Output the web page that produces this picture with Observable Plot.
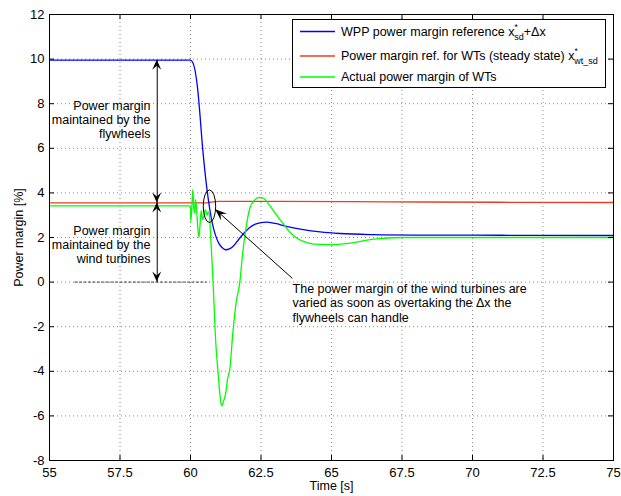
<!DOCTYPE html>
<html><head><meta charset="utf-8">
<script src="https://cdn.jsdelivr.net/npm/d3@7"></script>
<script src="https://cdn.jsdelivr.net/npm/@observablehq/plot@0.6"></script>
<style>body{margin:0;background:#fff;} svg{font-family:"Liberation Sans",Arial,sans-serif;}</style>
</head><body><div id="chart"></div>
<script>
const xTicks = [55, 57.5, 60, 62.5, 65, 67.5, 70, 72.5, 75];
const yTicks = [-8, -6, -4, -2, 0, 2, 4, 6, 8, 10, 12];

// WPP power margin reference x*_sd + Δx (blue)
const blueT = [55, 60.0, 60.08, 60.16, 60.25, 60.33, 60.41, 60.5, 60.59, 60.68, 60.78, 60.9, 61.0, 61.12, 61.24, 61.4, 61.55, 61.7, 61.9, 62.1, 62.3, 62.5, 62.7, 63.0, 63.4, 64.0, 64.6, 65.3, 66.5, 68, 71, 75];
const blueV = [9.95, 9.95, 9.85, 9.5, 8.7, 7.6, 6.3, 5.1, 4.1, 3.3, 2.6, 2.05, 1.75, 1.55, 1.45, 1.5, 1.65, 1.9, 2.2, 2.45, 2.6, 2.67, 2.69, 2.63, 2.5, 2.35, 2.25, 2.18, 2.13, 2.11, 2.1, 2.09];

// Power margin ref. for WTs (steady state) x*_wt_sd (red)
const redT = [55, 60.5, 60.7, 61.0, 63, 67, 71, 75];
const redV = [3.55, 3.55, 3.58, 3.62, 3.62, 3.6, 3.58, 3.57];

// Actual power margin of WTs (green)
const greenT = [55, 60.0, 60.01, 60.05, 60.08, 60.12, 60.15, 60.18, 60.22, 60.26, 60.3, 60.34, 60.38, 60.43, 60.48, 60.53, 60.58, 60.63, 60.67, 60.71, 60.8, 60.9, 60.97, 61.04, 61.1, 61.17, 61.24, 61.32, 61.39, 61.5, 61.62, 61.75, 61.85, 61.95, 62.1, 62.25, 62.45, 62.6, 62.8, 62.95, 63.31, 63.55, 63.78, 64.05, 64.37, 64.85, 65.67, 66.5, 67.5, 70, 75];
const greenV = [3.42, 3.42, 2.7, 3.4, 4.15, 3.3, 3.1, 3.7, 3.2, 2.4, 2.0, 2.6, 3.2, 2.8, 3.0, 3.25, 3.0, 3.15, 3.0, 2.2, 0, -2.8, -3.94, -5.0, -5.55, -5.35, -5.05, -4.3, -3.94, -2.3, -0.9, 0, 1.3, 2.27, 3.3, 3.65, 3.8, 3.75, 3.45, 3.18, 2.58, 2.2, 1.97, 1.8, 1.7, 1.68, 1.75, 1.93, 2.0, 2.0, 2.0];

const colors = ["#0000ff", "#e8401c", "#00ff00"];

// annotations (data units)
const dashLine = {t1: 55.9, t2: 60.6, v: 0};
const arrowT = 58.82;
const flyArrow = [9.95, 3.55];
const wtArrow = [3.55, 0.0];
const pointerFrom = [63.61, 0.17], pointerTo = [60.89, 3.25];
const ellipse = {t: 60.69, v: 3.38, rt: 0.22, rv: 0.73};
const noteLeft1 = "Power margin\nmaintained by the\nflywheels";
const noteLeft2 = "Power margin\nmaintained by the\nwind turbines";
const noteRight = "The power margin of the wind turbines are\nvaried as soon as overtaking the Δx the\nflywheels can handle";

const rows = (ts, vs) => ts.map((t, i) => ({t, v: vs[i]}));

const W = 621, H = 496, mL = 49, mR = 8, mT = 14, mB = 36;
const innerW = W - mL - mR, innerH = H - mT - mB;

const chart = Plot.plot({
  width: W, height: H, marginLeft: mL, marginRight: mR, marginTop: mT, marginBottom: mB,
  style: {fontFamily: "'Liberation Sans', Arial, sans-serif", fontSize: "13px", background: "#fff", color: "black"},
  x: {domain: [55, 75]},
  y: {domain: [-8, 12]},
  marks: [
    Plot.gridX(xTicks, {stroke: "#888", strokeOpacity: 1, strokeDasharray: "1,3"}),
    Plot.gridY(yTicks, {stroke: "#888", strokeOpacity: 1, strokeDasharray: "1,3"}),
    Plot.ruleY([dashLine], {y: "v", x1: "t1", x2: "t2", stroke: "#444", strokeDasharray: "3,1.5"}),
    Plot.line(rows(redT, redV), {x: "t", y: "v", stroke: colors[1], strokeWidth: 1.3, curve: "monotone-x"}),
    Plot.line(rows(blueT, blueV), {x: "t", y: "v", stroke: colors[0], strokeWidth: 1.3, curve: "monotone-x"}),
    Plot.line(rows(greenT, greenV), {x: "t", y: "v", stroke: colors[2], strokeWidth: 1.3, curve: "monotone-x"}),
    Plot.frame({stroke: "black"}),
    Plot.ruleX(xTicks, {insetTop: innerH - 5, stroke: "black"}),
    Plot.ruleX(xTicks, {insetBottom: innerH - 5, stroke: "black"}),
    Plot.ruleY(yTicks, {insetRight: innerW - 5, stroke: "black"}),
    Plot.ruleY(yTicks, {insetLeft: innerW - 5, stroke: "black"}),
    Plot.axisX({ticks: xTicks, tickSize: 0, tickPadding: 7, tickFormat: d => String(d), label: null, fontSize: 13}),
    Plot.axisY({ticks: yTicks, tickSize: 0, tickPadding: 5, tickFormat: d => String(d), label: null, fontSize: 13}),
    Plot.text(["Time [s]"], {frameAnchor: "bottom", dy: 25, textAnchor: "middle", lineAnchor: "middle", fontSize: 12.5}),
    Plot.text(["Power margin [%]"], {frameAnchor: "left", dx: -31, rotate: -90, textAnchor: "middle", lineAnchor: "middle", fontSize: 12.5}),
    Plot.text([noteLeft1], {x: 58.58, y: 7.27, textAnchor: "end", lineAnchor: "middle", lineHeight: 1.12, fontSize: 12.5}),
    Plot.text([noteLeft2], {x: 58.58, y: 1.68, textAnchor: "end", lineAnchor: "middle", lineHeight: 1.12, fontSize: 12.5}),
    Plot.text([noteRight], {x: 63.62, y: -0.91, textAnchor: "start", lineAnchor: "middle", lineHeight: 1.16, fontSize: 12.5}),
    Plot.link([{a: pointerFrom, b: pointerTo}], {x1: d => d.a[0], y1: d => d.a[1], x2: d => d.b[0], y2: d => d.b[1], stroke: "black"}),
    Plot.link([flyArrow, wtArrow], {x1: arrowT, x2: arrowT, y1: d => d[0], y2: d => d[1], stroke: "black"})
  ]
});
document.getElementById("chart").appendChild(chart);

const sx = chart.scale("x"), sy = chart.scale("y");
const X = t => sx.apply(t), Y = v => sy.apply(v);
const svg = d3.select(chart);
const ann = svg.append("g");

function head(x0, y0, x1, y1, L = 10, w = 4.5) {
  const a = Math.atan2(y1 - y0, x1 - x0);
  const c = Math.cos(a), s = Math.sin(a);
  const pt = (d, p) => [x1 - d * c - p * s, y1 - d * s + p * c];
  const pts = [[x1, y1], pt(L, w), pt(L * 0.6, 0), pt(L, -w)];
  ann.append("path").attr("d", "M" + pts.map(p => p.join(",")).join("L") + "Z").attr("fill", "black");
}
head(X(arrowT), Y(flyArrow[1]), X(arrowT), Y(flyArrow[0]));
head(X(arrowT), Y(flyArrow[0]), X(arrowT), Y(flyArrow[1]));
head(X(arrowT), Y(wtArrow[1]), X(arrowT), Y(wtArrow[0]));
head(X(arrowT), Y(wtArrow[0]), X(arrowT), Y(wtArrow[1]));
head(X(pointerFrom[0]), Y(pointerFrom[1]), X(pointerTo[0]), Y(pointerTo[1]), 12, 4.5);

ann.append("ellipse")
  .attr("cx", X(ellipse.t)).attr("cy", Y(ellipse.v))
  .attr("rx", X(ellipse.t + ellipse.rt) - X(ellipse.t))
  .attr("ry", Y(ellipse.v - ellipse.rv) - Y(ellipse.v))
  .attr("fill", "none").attr("stroke", "black").attr("stroke-width", 1);

// legend
const lg = svg.append("g").attr("font-size", 12.5).attr("fill", "black").attr("text-anchor", "start");
lg.append("rect").attr("x", 292.5).attr("y", 19.5).attr("width", 313).attr("height", 68)
  .attr("fill", "white").attr("stroke", "black");
const rowsY = [31.5, 56, 77];
rowsY.forEach((y, i) => {
  lg.append("line").attr("x1", 300).attr("x2", 335).attr("y1", y).attr("y2", y)
    .attr("stroke", colors[i]).attr("stroke-width", 1.3);
});
function legendText(y, main, sub, tail) {
  const t = lg.append("text").attr("x", 341).attr("y", y).attr("dy", "0.35em").attr("text-anchor", "start");
  t.append("tspan").text(main);
  t.append("tspan").attr("font-size", 8.5).attr("dy", -6).text("*");
  t.append("tspan").attr("font-size", 9).attr("dx", -3.5).attr("dy", 10).text(sub);
  if (tail) t.append("tspan").attr("dy", -4).text(tail);
}
legendText(rowsY[0], "WPP power margin reference x", "sd", "+Δx");
legendText(rowsY[1], "Power margin ref. for WTs (steady state) x", "wt_sd", null);
lg.append("text").attr("x", 341).attr("y", rowsY[2]).attr("dy", "0.35em").attr("text-anchor", "start").text("Actual power margin of WTs");
</script>
</body></html>
